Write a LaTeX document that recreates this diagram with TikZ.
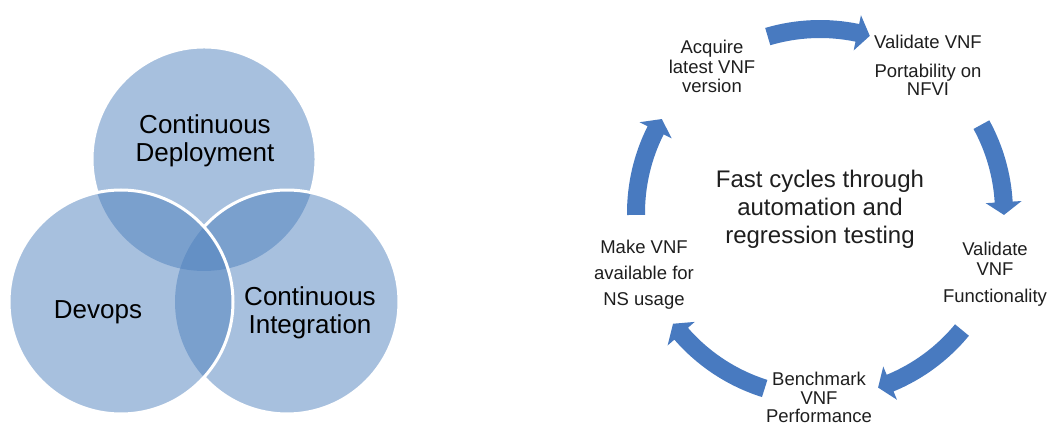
\documentclass[tikz,border=0pt]{standalone}
\usepackage{fontspec}
\usetikzlibrary{calc}
\setmainfont{Liberation Sans}
\definecolor{vennblue}{RGB}{79,129,189}
\definecolor{arrowblue}{RGB}{72,122,192}
\definecolor{txt}{RGB}{30,30,30}
\newcommand{\cyclearrow}[2]{%
  \pgfmathsetmacro{\hb}{#2+4}%
  \fill[cyclearrowstyle] (#1:193) arc[start angle=#1, end angle=\hb, radius=193]
    -- (\hb:202) -- (#2:184) -- (\hb:166) -- (\hb:175)
    arc[start angle=\hb, end angle=#1, radius=175] -- cycle;}
\tikzset{
  venncircle/.style={fill=vennblue, fill opacity=0.5},
  vennborder/.style={draw=white, line width=3pt},
  cyclearrowstyle/.style={fill=arrowblue},
  vennlabel/.style={font=\fontsize{26}{26}\selectfont, text=black, align=center,
    anchor=north, inner sep=0pt, yshift=18.2pt},
  steplabel/.style={font=\fontsize{18.5}{18.5}\selectfont, text=txt, align=center,
    anchor=north, inner sep=0pt, yshift=12.95pt},
  centerlabel/.style={font=\fontsize{24}{28}\selectfont, text=txt, align=center,
    anchor=north, inner sep=0pt, yshift=19.6pt}
}
\begin{document}
\begin{tikzpicture}[x=1pt,y=1pt]
\useasboundingbox (0,0) rectangle (1049,426);
% ---------------- Venn diagram ----------------
\coordinate (ctop) at (204,267);
\coordinate (cleft) at (121,124);
\coordinate (cright) at (287,124);
\fill[venncircle] (ctop) circle[radius=112];
\fill[venncircle] (cright) circle[radius=112];
\fill[venncircle] (cleft) circle[radius=112];
\draw[vennborder] ($(ctop)+(-17.44:112)$) arc[start angle=-17.44, end angle=197.44, radius=112];
\draw[vennborder] ($(cright)+(-137.82:112)$) arc[start angle=-137.82, end angle=137.82, radius=112];
\draw[vennborder] (cleft) circle[radius=112];
\node[vennlabel] (deploy) at (205,293) {\strut Continuous\\Deployment};
\node[vennlabel] (devops) at (98,108) {\strut Devops};
\node[vennlabel] (integ) at (310,121) {\strut Continuous\\Integration};
% ---------------- Cycle ----------------
\coordinate (cyc) at (820,213);
\begin{scope}[shift={(cyc)}]
  \cyclearrow{106.5}{74.3}
  \cyclearrow{28.7}{-0.6}
  \cyclearrow{-39.5}{-71.6}
  \cyclearrow{-107.5}{-143}
  \cyclearrow{180.6}{149.3}
\end{scope}
\node[steplabel] (acquire) at (712,373) {\strut Acquire\\latest VNF\\version};
\node[steplabel] (portab) at (928,378) {\strut Validate VNF\\[8.5pt]Portability on\\NFVI};
\node[steplabel] (func) at (995,171) {\strut Validate\\[1.5pt]VNF\\[8.5pt]Functionality};
\node[steplabel] (bench) at (819,41) {\strut Benchmark\\VNF\\Performance};
\node[steplabel] (makeavail) at (644,173) {\strut Make VNF\\[5.5pt]available for\\[7.5pt]NS usage};
\node[centerlabel] (fast) at (820,239) {\strut Fast cycles through\\automation and\\regression testing};
\end{tikzpicture}
\end{document}
